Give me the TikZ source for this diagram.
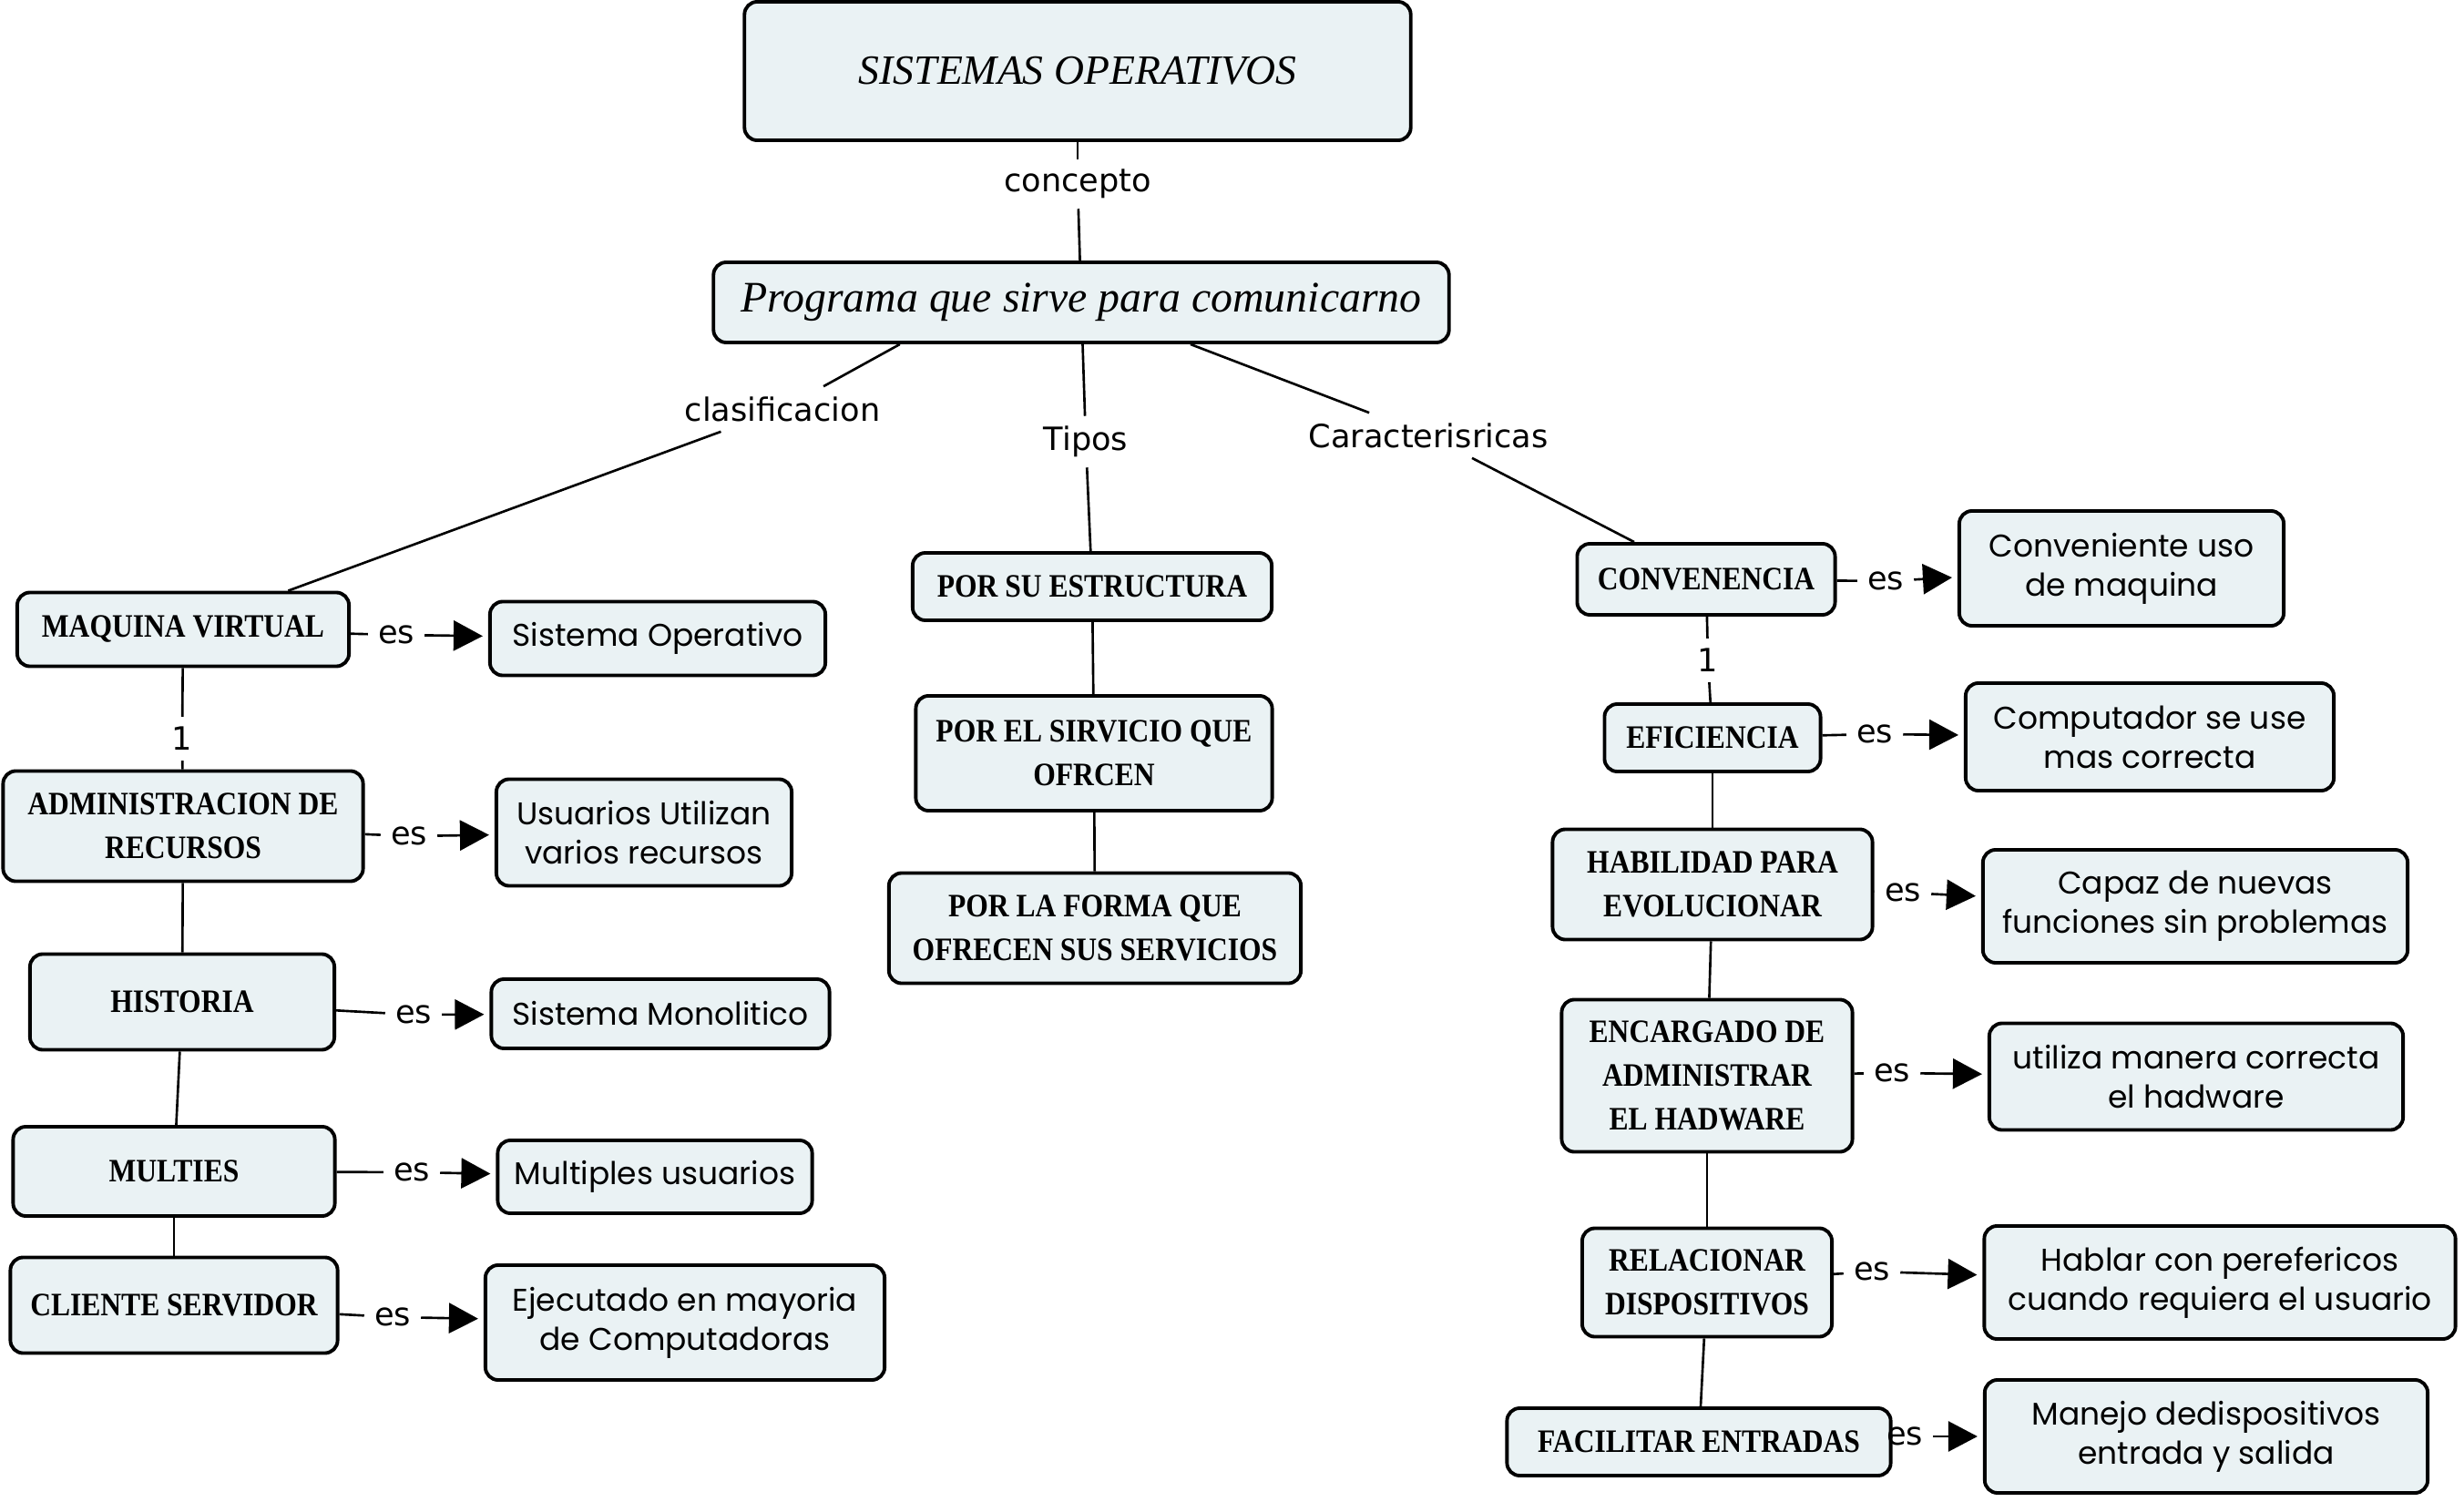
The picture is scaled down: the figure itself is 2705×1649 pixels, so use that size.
\documentclass[tikz,border=0pt]{standalone}
\usepackage{fontspec}
\setmainfont{Liberation Serif}
\newfontfamily\headfont{Liberation Serif}[FakeStretch=0.88]
\newfontfamily\bodyfont{Poppins}
\newfontfamily\linkfont{DejaVu Sans}
\usepackage{tikz}
\usetikzlibrary{positioning,arrows.meta,backgrounds}
\definecolor{boxfill}{RGB}{234,242,244}
\tikzset{%
  every concept/.style={
    draw,
    fill=boxfill,
    rounded corners=0.14cm,
    line width=1.1pt,
    align=center,
    inner sep=2pt
  },
  concept title/.style={
    font=\itshape\fontsize{13}{16}\selectfont
  },
  concept head/.style={
    font=\headfont\bfseries\fontsize{10.2}{13.6}\selectfont
  },
  concept text/.style={
    font=\bodyfont\fontsize{9.8}{12.2}\selectfont
  },
  link label/.style={
    font=\linkfont\fontsize{10}{12}\selectfont,
    inner sep=3pt
  },
  link/.style={line width=0.75pt},
  link arrow/.style={line width=0.75pt, shorten >=0.06cm,
    -{Triangle[length=0.32cm,width=0.33cm]}},
}

\begin{document}
\begin{tikzpicture}[x=0.01cm, y=-0.01cm]
\useasboundingbox (0,0) rectangle (2705,1649);

% top
\node [every concept, concept title, minimum width=7.31cm, minimum height=1.52cm] (sistemas) at (1183,78) {SISTEMAS OPERATIVOS};
\node [every concept, concept title, font=\itshape\fontsize{13.6}{17}\selectfont, minimum width=8.07cm, minimum height=0.88cm] (programa) at (1187,332) {Programa que sirve para comunicarno};

% clasificacion
\node [every concept, concept head, minimum width=3.64cm, minimum height=0.81cm] (maquina) at (201,691) {MAQUINA VIRTUAL};
\node [every concept, concept head, minimum width=3.95cm, minimum height=1.21cm] (administracion) at (201,907) {ADMINISTRACION DE\\RECURSOS};
\node [every concept, concept head, minimum width=3.34cm, minimum height=1.05cm] (historia) at (200,1100) {HISTORIA};
\node [every concept, concept head, minimum width=3.53cm, minimum height=0.98cm] (multies) at (191,1286) {MULTIES};
\node [every concept, concept head, minimum width=3.59cm, minimum height=1.05cm] (cliente) at (191,1433) {CLIENTE SERVIDOR};

\node [every concept, concept text, minimum width=3.68cm, minimum height=0.81cm] (so) at (722,701) {Sistema Operativo};
\node [every concept, concept text, minimum width=3.24cm, minimum height=1.17cm] (usuarios) at (707,914) {Usuarios Utilizan\\varios recursos};
\node [every concept, concept text, minimum width=3.71cm, minimum height=0.76cm] (monolitico) at (725,1113) {Sistema Monolitico};
\node [every concept, concept text, minimum width=3.45cm, minimum height=0.80cm] (multiples) at (719,1292) {Multiples usuarios};
\node [every concept, concept text, minimum width=4.38cm, minimum height=1.26cm] (ejecutado) at (752,1452) {Ejecutado en mayoria\\de Computadoras};

% tipos
\node [every concept, concept head, minimum width=3.94cm, minimum height=0.74cm] (estructura) at (1199,644) {POR SU ESTRUCTURA};
\node [every concept, concept head, minimum width=3.91cm, minimum height=1.26cm] (servicio) at (1201,827) {POR EL SIRVICIO QUE\\OFRCEN};
\node [every concept, concept head, minimum width=4.52cm, minimum height=1.21cm] (forma) at (1202,1019) {POR LA FORMA QUE\\OFRECEN SUS SERVICIOS};

% caracteristicas
\node [every concept, concept head, minimum width=2.83cm, minimum height=0.78cm] (convenencia) at (1873,636) {CONVENENCIA};
\node [every concept, concept head, minimum width=2.37cm, minimum height=0.74cm] (eficiencia) at (1880,810) {EFICIENCIA};
\node [every concept, concept head, minimum width=3.51cm, minimum height=1.21cm] (habilidad) at (1880,971) {HABILIDAD PARA\\EVOLUCIONAR};
\node [every concept, concept head, minimum width=3.19cm, minimum height=1.67cm] (encargado) at (1874,1181) {ENCARGADO DE\\ADMINISTRAR\\EL HADWARE};
\node [every concept, concept head, minimum width=2.74cm, minimum height=1.19cm] (relacionar) at (1874,1408) {RELACIONAR\\DISPOSITIVOS};
\node [every concept, concept head, minimum width=4.21cm, minimum height=0.74cm] (facilitar) at (1865,1583) {FACILITAR ENTRADAS};

\node [every concept, concept text, minimum width=3.56cm, minimum height=1.26cm] (conveniente) at (2329,624) {Conveniente uso\\de maquina};
\node [every concept, concept text, minimum width=4.04cm, minimum height=1.18cm] (computador) at (2360,809) {Computador se use\\mas correcta};
\node [every concept, concept text, minimum width=4.66cm, minimum height=1.24cm] (capaz) at (2410,995) {Capaz de nuevas\\funciones sin problemas};
\node [every concept, concept text, minimum width=4.54cm, minimum height=1.17cm] (utiliza) at (2411,1182) {utiliza manera correcta\\el hadware};
\node [every concept, concept text, minimum width=5.17cm, minimum height=1.24cm] (hablar) at (2437,1408) {Hablar con perefericos\\cuando requiera el usuario};
\node [every concept, concept text, minimum width=4.86cm, minimum height=1.24cm] (manejo) at (2422,1577) {Manejo dedispositivos\\entrada y salida};

% link labels
\node [link label] (concepto) at (1183,202) {concepto};
\node [link label] (clasificacion) at (859,449) {clasificacion};
\node [link label] (tipos) at (1192,485) {Tipos};
\node [link label] (caracter) at (1568,478) {Caracterisricas};
\node [link label] (uno-l) at (200,811) {1};
\node [link label] (uno-r) at (1875,725) {1};

\foreach \a/\x/\y in {maquina/435/697, administracion/449/918, historia/454/1114,
    multies/452/1287, cliente/431/1446, convenencia/2070/638, eficiencia/2058/806,
    habilidad/2089/980, encargado/2077/1178, relacionar/2055/1396, facilitar/2091/1577}
  \node [link label] (es-\a) at (\x,\y) {es};

\begin{scope}[on background layer]
\draw [link] (programa.193) -- (clasificacion);
\draw [link] (clasificacion) -- (maquina);

\foreach \a/\l/\b in {sistemas/concepto/programa, programa/tipos/estructura,
    programa/caracter/convenencia, maquina/uno-l/administracion,
    convenencia/uno-r/eficiencia} {
  \draw [link] (\a) -- (\l);
  \draw [link] (\l) -- (\b);
}

\foreach \a/\b in {administracion/historia, historia/multies, multies/cliente,
    estructura/servicio, servicio/forma, eficiencia/habilidad,
    habilidad/encargado, encargado/relacionar, relacionar/facilitar}
  \draw [link] (\a) -- (\b);

\foreach \a/\b in {maquina/so, administracion/usuarios, historia/monolitico,
    multies/multiples, cliente/ejecutado, convenencia/conveniente,
    eficiencia/computador, habilidad/capaz, encargado/utiliza,
    relacionar/hablar, facilitar/manejo} {
  \draw [link] (\a) -- (es-\a);
  \draw [link arrow] (es-\a) -- (\b);
}
\end{scope}

\end{tikzpicture}
\end{document}
